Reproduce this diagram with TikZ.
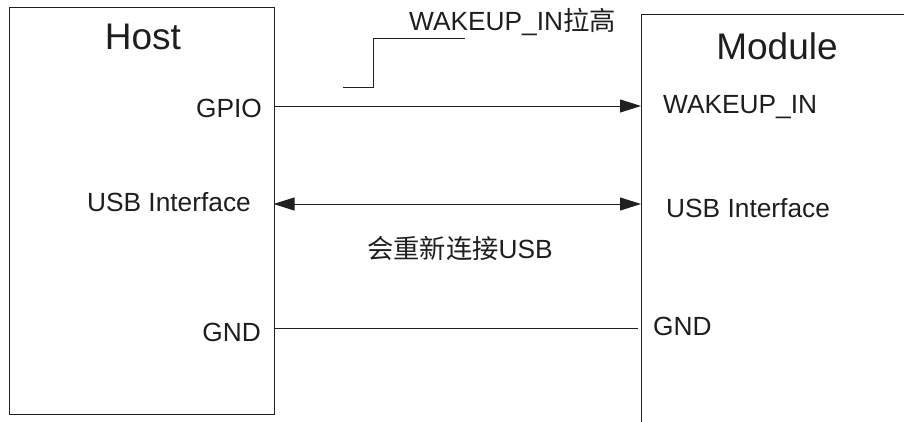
\documentclass[tikz,border=0pt]{standalone}
\usepackage{fontspec}
\setmainfont{Liberation Sans}
\newfontfamily\cjk{Noto Sans CJK SC}
\usetikzlibrary{arrows.meta}
\definecolor{txt}{HTML}{1E1E1E}
\definecolor{ln}{HTML}{202020}
\tikzset{
  lbl/.style={inner sep=0pt, text=txt, font=\fontsize{26.3}{31}\selectfont},
  title/.style={inner sep=0pt, text=txt, font=\fontsize{37}{44}\selectfont},
  wire/.style={draw=ln, line width=0.9pt},
  tip/.style={-{Triangle[length=21pt,width=13pt]}},
  box/.style={draw=ln, line width=0.9pt, inner sep=0pt}
}
\begin{document}
\begin{tikzpicture}[x=1pt,y=-1pt]
\useasboundingbox (0,0) rectangle (904,421);
\clip (0,0) rectangle (904,421);
% boxes
\node[box, minimum width=264.5pt, minimum height=407pt, anchor=north west] (host) at (9,7) {};
\node[box, minimum width=300pt, minimum height=440pt, anchor=north west] (module) at (641,13.5) {};
% titles
\node[title] (hostt) at (143,37) {Host};
\node[title] (modt) at (777,46) {Module};
% host labels
\node[lbl, anchor=east] (gpio) at (262,108) {GPIO};
\node[lbl, anchor=east] (husb) at (251,202) {USB Interface};
\node[lbl, anchor=east] (hgnd) at (261,332) {GND};
% module labels
\node[lbl, anchor=west] (wk) at (663,107) {WAKEUP\_IN};
\node[lbl, anchor=west] (musb) at (666,208) {USB Interface};
\node[lbl, anchor=west] (mgnd) at (653,326) {GND};
% annotations
\node[lbl, anchor=west] (wkup) at (409,22) {WAKEUP\_IN{\cjk 拉高}};
\node[lbl] (recon) at (460,248) {{\cjk 会重新连接}USB};
% anchor coordinates on box edges
\coordinate (h1) at (273.5,106);
\coordinate (m1) at (641,106);
\coordinate (h2) at (273.5,204);
\coordinate (m2) at (641,204);
\coordinate (h3) at (273.5,328);
\coordinate (m3) at (638,328);
% connectors
\draw[wire, tip] (h1) -- (m1);
\draw[wire, {Triangle[length=21pt,width=13pt]}-{Triangle[length=21pt,width=13pt]}] (h2) -- (m2);
\draw[wire] (h3) -- (m3);
% step waveform
\coordinate (s0) at (343,87);
\coordinate (s1) at (373,38);
\coordinate (s2) at (465,38);
\draw[wire] (s0) -| (s1) -- (s2);
\end{tikzpicture}
\end{document}
